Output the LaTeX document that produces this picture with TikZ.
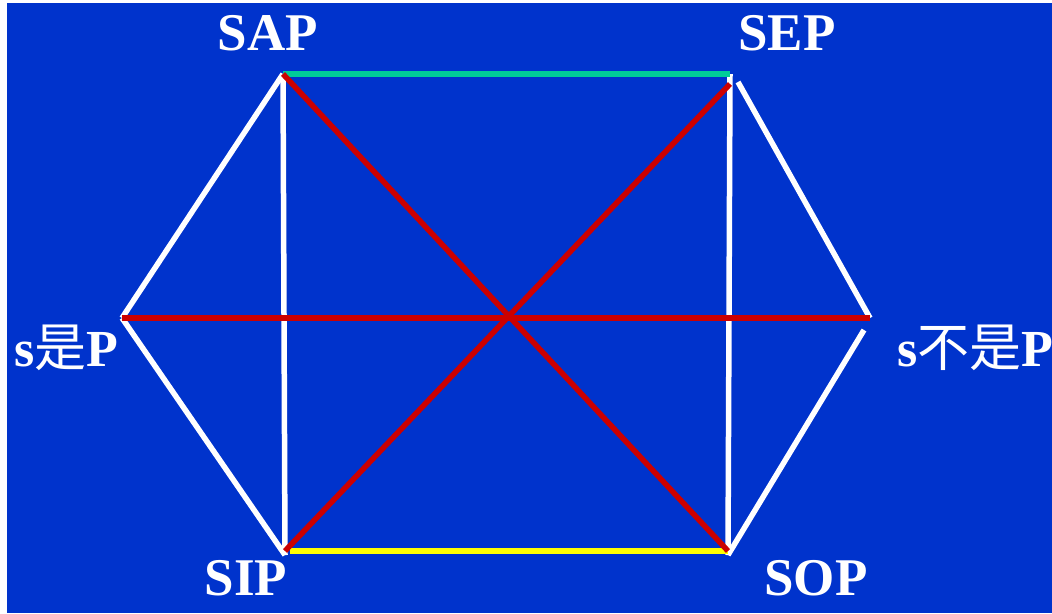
\documentclass[tikz,border=0pt]{standalone}
\usepackage{fontspec}
\setmainfont{Liberation Serif}
\newfontfamily\cjk{Noto Sans CJK SC}
\definecolor{bgblue}{HTML}{0033CC}
\definecolor{lred}{HTML}{CC0000}
\definecolor{lgreen}{HTML}{00CC99}
\definecolor{lyellow}{HTML}{FFFF00}
\tikzset{
  edge/.style={line width=5.5pt, white},
  opp/.style={line width=5.5pt, lred},
  lab/.style={text=white, font=\fontsize{53}{53}\selectfont\bfseries, inner sep=0pt},
  labc/.style={text=white, font=\fontsize{52}{52}\selectfont\bfseries, inner sep=0pt},
}
\begin{document}
\begin{tikzpicture}[x=1pt,y=-1pt]
\useasboundingbox (0,0) rectangle (1052,613);
\fill[white] (0,0) rectangle (1052,613);
\fill[bgblue] (7,3) rectangle (1052,613);
\coordinate (A) at (283,74);
\coordinate (E) at (730,74);
\coordinate (L) at (122,318);
\coordinate (R) at (870,318);
\coordinate (I) at (285,551);
\coordinate (O) at (728,551);
% white edges
\draw[edge] (A) -- (L);
\draw[edge] (L) -- ([yshift=-4]I);
\draw[edge] (A) -- ([yshift=-4]I);
\draw[edge] (E) -- ([yshift=-4]O);
\draw[edge] ([xshift=8,yshift=-8]E) -- (R);
\draw[edge] ([xshift=-6,yshift=-12]R) -- ([yshift=-4]O);
% top and bottom
\draw[line width=5.5pt, lgreen] (A) -- (E);
\draw[line width=5.5pt, lyellow] ([xshift=5]I) -- (O);
% red diagonals
\draw[opp] (A) -- (O);
\draw[opp] ([yshift=-10]E) -- (I);
\draw[opp] (L) -- (R);
% labels
\node[lab] (sap) at (268,33) {SAP};
\node[lab] (sep) at (787,33) {SEP};
\node[lab] (sip) at (246,578) {SIP};
\node[lab] (sop) at (816,578) {SOP};
\node[labc] (sl) at (66,348) {s{\cjk\mdseries 是}P};
\node[labc, anchor=west] (sr) at (897,348) {s{\cjk\mdseries 不是}P};
\end{tikzpicture}
\end{document}
